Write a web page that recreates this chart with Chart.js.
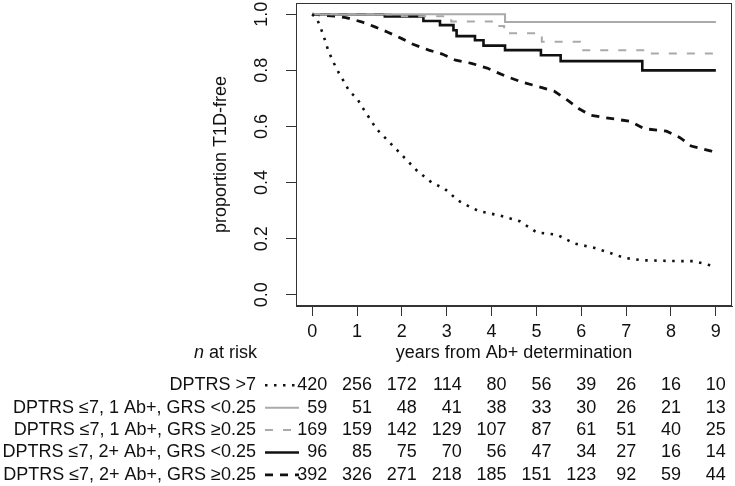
<!DOCTYPE html>
<html><head><meta charset="utf-8">
<script src="https://cdn.jsdelivr.net/npm/chart.js@4.4.1/dist/chart.umd.min.js"></script>
<style>html,body{margin:0;padding:0;background:#fff}canvas{display:block}</style>
</head><body>
<canvas id="c" width="735" height="486"></canvas>
<script>
// ---- tick labels / categories ----
const xTicks = [0, 1, 2, 3, 4, 5, 6, 7, 8, 9];
const yTicks = [0, 0.2, 0.4, 0.6, 0.8, 1.0];
const riskTimes = [0, 1, 2, 3, 4, 5, 6, 7, 8, 9];
const groupLabels = [
  'DPTRS >7',
  'DPTRS ≤7, 1 Ab+, GRS <0.25',
  'DPTRS ≤7, 1 Ab+, GRS ≥0.25',
  'DPTRS ≤7, 2+ Ab+, GRS <0.25',
  'DPTRS ≤7, 2+ Ab+, GRS ≥0.25'
];

// ---- numbers at risk ----
const riskHigh     = [420, 256, 172, 114, 80, 56, 39, 26, 16, 10];
const risk1AbLow   = [59, 51, 48, 41, 38, 33, 30, 26, 21, 13];
const risk1AbHigh  = [169, 159, 142, 129, 107, 87, 61, 51, 40, 25];
const risk2AbLow   = [96, 85, 75, 70, 56, 47, 34, 27, 16, 14];
const risk2AbHigh  = [392, 326, 271, 218, 185, 151, 123, 92, 59, 44];

// ---- survival curves (years, proportion T1D-free) ----
const highTime = [0, 0.1, 0.17, 0.25, 0.36, 0.47, 0.58, 0.69, 0.83, 1.0, 1.14, 1.44, 1.74, 2.05, 2.35, 2.66, 2.96, 3.26, 3.5, 3.72, 4.17, 4.63, 5.01, 5.46, 5.84, 6.3, 6.98, 7.36, 8.12, 8.5, 8.88, 9];
const highSurv = [1, 0.985, 0.96, 0.925, 0.87, 0.83, 0.795, 0.765, 0.725, 0.70, 0.663, 0.59, 0.541, 0.49, 0.44, 0.401, 0.377, 0.335, 0.315, 0.298, 0.283, 0.262, 0.222, 0.214, 0.183, 0.167, 0.131, 0.123, 0.12, 0.12, 0.105, 0.103];

const ab1LowTime = [0, 4.30, 9];
const ab1LowSurv = [1, 0.972, 0.972];

const ab1HighTime = [0, 2.0, 3.1, 4.05, 4.28, 5.12, 5.97, 7.5, 9];
const ab1HighSurv = [1, 0.993, 0.974, 0.958, 0.932, 0.902, 0.872, 0.86, 0.86];

const ab2LowTime = [0, 1.62, 2.48, 2.85, 3.15, 3.22, 3.63, 3.82, 4.30, 5.10, 5.54, 7.36, 9];
const ab2LowSurv = [1, 0.992, 0.976, 0.961, 0.943, 0.922, 0.907, 0.888, 0.872, 0.854, 0.833, 0.80, 0.80];

const ab2HighTime = [0, 0.5, 0.75, 1.1, 1.4, 1.7, 2.0, 2.25, 2.6, 2.9, 3.2, 3.55, 3.9, 4.3, 4.7, 5.05, 5.4, 5.7, 5.95, 6.2, 6.5, 7.1, 7.4, 7.9, 8.2, 8.45, 8.9, 9];
const ab2HighSurv = [1, 0.993, 0.988, 0.973, 0.955, 0.935, 0.913, 0.893, 0.872, 0.858, 0.836, 0.825, 0.808, 0.78, 0.757, 0.742, 0.725, 0.693, 0.663, 0.64, 0.632, 0.618, 0.592, 0.583, 0.56, 0.53, 0.512, 0.505];

const pts = (t, s) => t.map((v, i) => ({x: v, y: s[i]}));
const FONT = '"Liberation Sans", Arial, Helvetica, sans-serif';
const TXT = '#111';
const FRAME = '#333';

const datasets = [
  {data: pts(highTime, highSurv), borderColor: '#111', borderWidth: 2.6, borderDash: [2.5, 6.5], stepped: false},
  {data: pts(ab1LowTime, ab1LowSurv), borderColor: '#aaaaaa', borderWidth: 2, borderDash: [], stepped: true},
  {data: pts(ab1HighTime, ab1HighSurv), borderColor: '#aaaaaa', borderWidth: 2, borderDash: [8, 10], stepped: true},
  {data: pts(ab2LowTime, ab2LowSurv), borderColor: '#111', borderWidth: 2.6, borderDash: [], stepped: true},
  {data: pts(ab2HighTime, ab2HighSurv), borderColor: '#111', borderWidth: 2.8, borderDash: [8, 7], stepped: false}
].map(d => Object.assign({pointRadius: 0, fill: false, tension: 0, borderCapStyle: 'butt'}, d));

const riskRows = [riskHigh, risk1AbLow, risk1AbHigh, risk2AbLow, risk2AbHigh];

const decor = {
  id: 'decor',
  afterDraw(chart) {
    const {ctx, chartArea: a, scales: {x, y}} = chart;
    ctx.save();
    ctx.globalAlpha = 1;
    ctx.globalCompositeOperation = 'source-over';
    // box (1px filled strips)
    ctx.fillStyle = FRAME;
    const L = Math.round(a.left), R = Math.round(a.right), T = Math.round(a.top), B = Math.round(a.bottom);
    ctx.fillRect(L, T, R - L, 1);
    ctx.fillRect(L, B - 1, R - L, 1);
    ctx.fillRect(L, T, 1, B - T);
    ctx.fillRect(R - 1, T, 1, B - T);
    // rotated y tick labels
    ctx.fillStyle = TXT; ctx.font = '18px ' + FONT;
    ctx.textAlign = 'center'; ctx.textBaseline = 'middle';
    yTicks.forEach(v => {
      ctx.save();
      ctx.translate(262.5, y.getPixelForValue(v));
      ctx.rotate(-Math.PI / 2);
      ctx.fillText(v.toFixed(1), 0, 0);
      ctx.restore();
    });
    // "n at risk"
    const rest = ' at risk';
    ctx.font = '18px ' + FONT;
    const wRest = ctx.measureText(rest).width;
    ctx.textAlign = 'right';
    ctx.fillText(rest, 257, 353);
    ctx.font = 'italic 18px ' + FONT;
    ctx.fillText('n', 257 - wRest, 353);
    // risk table
    ctx.font = '18px ' + FONT;
    const row0 = 385.3, rowStep = 22.4;
    groupLabels.forEach((lab, r) => {
      const ry = row0 + r * rowStep;
      ctx.fillStyle = TXT; ctx.textAlign = 'right'; ctx.textBaseline = 'middle';
      ctx.fillText(lab, 256, ry);
      const ds = chart.data.datasets[r];
      ctx.strokeStyle = ds.borderColor; ctx.lineWidth = ds.borderWidth;
      ctx.setLineDash(ds.borderDash || []); ctx.lineCap = 'butt';
      ctx.beginPath(); ctx.moveTo(265, ry); ctx.lineTo(299, ry); ctx.stroke();
      ctx.setLineDash([]);
    });
    riskTimes.forEach((t, c) => {
      const cx = x.getPixelForValue(t);
      const strs = riskRows.map(row => String(row[c]));
      const maxW = Math.max(...strs.map(s => ctx.measureText(s).width));
      strs.forEach((s, r) => {
        ctx.fillStyle = TXT; ctx.textAlign = 'right'; ctx.textBaseline = 'middle';
        ctx.fillText(s, cx + maxW / 2, row0 + r * rowStep);
      });
    });
    ctx.restore();
  }
};

new Chart(document.getElementById('c'), {
  type: 'line',
  data: {datasets},
  plugins: [decor],
  options: {
    responsive: false, animation: false, events: [],
    layout: {padding: {left: 210, right: 3, top: 3, bottom: 122}},
    plugins: {legend: {display: false}, tooltip: {enabled: false}},
    scales: {
      x: {
        type: 'linear', min: -0.36, max: 9.36,
        afterBuildTicks: s => { s.ticks = xTicks.map(v => ({value: v})); },
        afterFit: s => { s.height = 58; },
        grid: {drawOnChartArea: false, drawTicks: true, tickLength: 10, color: FRAME},
        border: {display: true, color: FRAME, width: 1},
        ticks: {padding: 5, color: TXT, font: {size: 18, family: FONT}, maxRotation: 0, autoSkip: false, callback: v => String(v)},
        title: {display: true, text: 'years from Ab+ determination', color: TXT, font: {size: 18, family: FONT}, padding: 0}
      },
      y: {
        type: 'linear', min: -0.04, max: 1.04,
        afterBuildTicks: s => { s.ticks = yTicks.map(v => ({value: v})); },
        afterFit: s => { s.width = 86; },
        grid: {drawOnChartArea: false, drawTicks: true, tickLength: 10, color: FRAME},
        border: {display: true, color: FRAME, width: 1},
        ticks: {display: false},
        title: {display: true, text: 'proportion T1D-free', color: TXT, font: {size: 18, family: FONT}, padding: 0}
      }
    }
  }
});
</script>
</body></html>
